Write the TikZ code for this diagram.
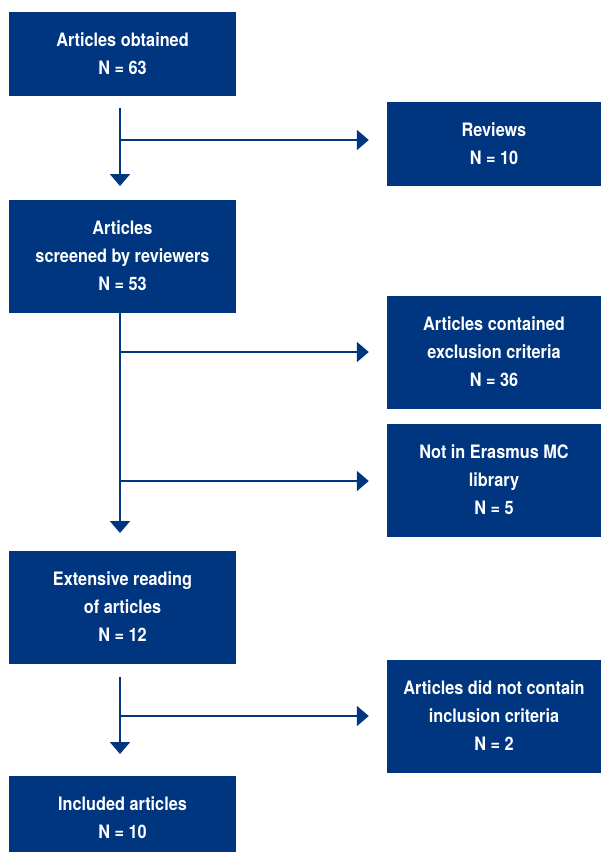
\documentclass[tikz,border=0pt]{standalone}
\usepackage{fontspec}
\setmainfont{TeX Gyre Heros}[FakeStretch=0.88]
\usetikzlibrary{arrows.meta}
\definecolor{navy}{RGB}{0,53,128}
\begin{document}
\begin{tikzpicture}[x=1pt,y=-1pt,
  box/.style={fill=navy, text=white, inner sep=0pt, align=center,
    font=\bfseries\fontsize{18.5}{28}\selectfont},
  lbox/.style={box, minimum width=227pt},
  rbox/.style={box, minimum width=214pt},
  arr/.style={draw=navy, line width=2pt, -{Triangle[width=20pt,length=12pt]}}]
\useasboundingbox (0,0) rectangle (601,852);
% left column
\node[lbox, minimum height=84pt]  (b1) at (122.5,53.5)  {Articles obtained\\N = 63};
\node[lbox, minimum height=113pt] (b2) at (122.5,256)   {Articles\\screened by reviewers\\N = 53};
\node[lbox, minimum height=113pt] (b3) at (122.5,607)   {Extensive reading\\of articles\\N = 12};
\node[lbox, minimum height=84pt]  (b4) at (122.5,818)   {Included articles\\N = 10};
% right column
\node[rbox, minimum height=84pt]  (r1) at (494,144)   {Reviews\\N = 10};
\node[rbox, minimum height=113pt] (r2) at (494,352)   {Articles contained\\exclusion criteria\\N = 36};
\node[rbox, minimum height=113pt] (r3) at (494,480)   {Not in Erasmus MC\\library\\N = 5};
\node[rbox, minimum height=113pt] (r4) at (494,716)   {Articles did not contain\\inclusion criteria\\N = 2};
% connector points
\coordinate (s1) at (120,108);  \coordinate (e1) at (120,186);
\coordinate (h1) at (120,140);
\coordinate (s2) at (120,312);  \coordinate (e2) at (120,533);
\coordinate (h2) at (120,352);  \coordinate (h3) at (120,481);
\coordinate (s3) at (120,677);  \coordinate (e3) at (120,754);
\coordinate (h4) at (120,716);
% connectors
\draw[arr] (s1) -- (e1);
\draw[arr, shorten >=18pt] (h1) -- (h1 -| r1.west);
\draw[arr] (s2) -- (e2);
\draw[arr, shorten >=18pt] (h2) -- (h2 -| r2.west);
\draw[arr, shorten >=18pt] (h3) -- (h3 -| r3.west);
\draw[arr] (s3) -- (e3);
\draw[arr, shorten >=18pt] (h4) -- (h4 -| r4.west);
\end{tikzpicture}
\end{document}
